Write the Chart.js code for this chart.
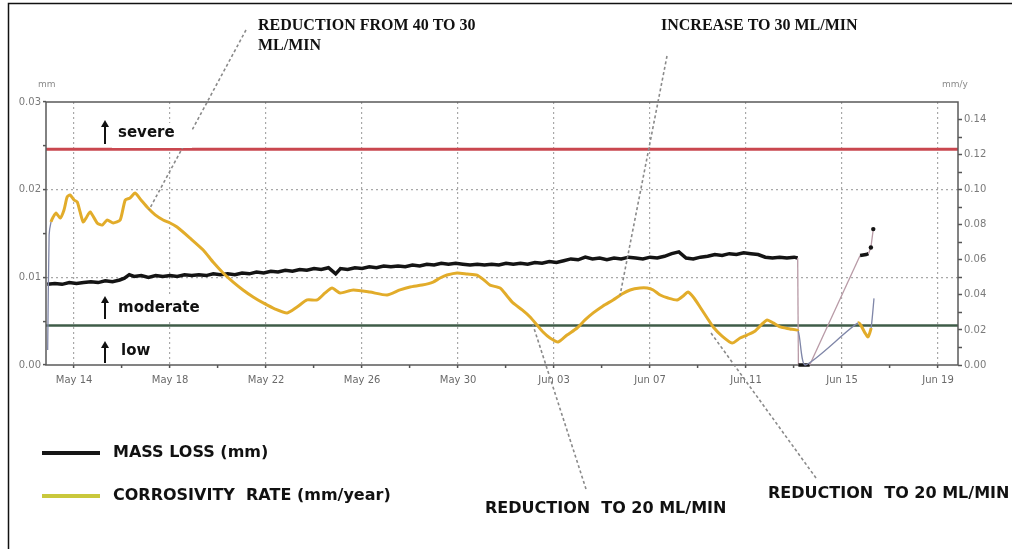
<!DOCTYPE html>
<html>
<head>
<meta charset="utf-8">
<script src="https://cdn.jsdelivr.net/npm/chart.js@4.4.0/dist/chart.umd.min.js"></script>
<style>
  html, body { margin: 0; padding: 0; background: #fff; }
  #wrap { position: relative; width: 1018px; height: 549px; }
</style>
</head>
<body>
<div id="wrap"><canvas id="c" width="1018" height="549"></canvas></div>
<script>
// Day numbers count from 1 May: 13 = May 14, 33 = Jun 03, 49 = Jun 19
const tickDays   = [13, 17, 21, 25, 29, 33, 37, 41, 45, 49];
const tickLabels = ['May 14', 'May 18', 'May 22', 'May 26', 'May 30',
                    'Jun 03', 'Jun 07', 'Jun 11', 'Jun 15', 'Jun 19'];

// Cumulative mass loss (mm), left axis
const massDays = [
  11.88, 12.2, 12.5, 12.8, 13.1, 13.4, 13.7, 14.0, 14.3, 14.6, 14.9, 15.1, 15.3, 15.5, 15.8,
  16.1, 16.4, 16.7, 17.0, 17.3, 17.6, 17.9, 18.2, 18.5, 18.8, 19.1, 19.4, 19.7, 20.0, 20.3,
  20.6, 20.9, 21.2, 21.5, 21.8, 22.1, 22.4, 22.7, 23.0, 23.3, 23.6, 23.9, 24.1, 24.4, 24.7,
  25.0, 25.3, 25.6, 25.9, 26.2, 26.5, 26.8, 27.1, 27.4, 27.7, 28.0, 28.3, 28.6, 28.9, 29.2,
  29.5, 29.8, 30.1, 30.4, 30.7, 31.0, 31.3, 31.6, 31.9, 32.2, 32.5, 32.8, 33.1, 33.4, 33.7,
  34.0, 34.3, 34.6, 34.9, 35.2, 35.5, 35.8, 36.1, 36.4, 36.7, 37.0, 37.3, 37.6, 37.9, 38.2,
  38.5, 38.8, 39.1, 39.4, 39.7, 40.0, 40.3, 40.6, 40.9, 41.2, 41.5, 41.8, 42.1, 42.4, 42.7,
  43.0, 43.15, 43.18, 43.65, 45.75, 46.0, 46.1, 46.2, 46.3
];
const massLoss = [
  0.0092, 0.0093, 0.0092, 0.0094, 0.0093, 0.0094, 0.0095, 0.0094, 0.0096, 0.0095, 0.0097, 0.0099, 0.0103, 0.0101, 0.0102,
  0.0100, 0.0102, 0.0101, 0.0102, 0.0101, 0.0103, 0.0102, 0.0103, 0.0102, 0.0104, 0.0103, 0.0104, 0.0103, 0.0105, 0.0104,
  0.0106, 0.0105, 0.0107, 0.0106, 0.0108, 0.0107, 0.0109, 0.0108, 0.0110, 0.0109, 0.0111, 0.0104, 0.0110, 0.0109, 0.0111,
  0.0110, 0.0112, 0.0111, 0.0113, 0.0112, 0.0113, 0.0112, 0.0114, 0.0113, 0.0115, 0.0114, 0.0116, 0.0115, 0.0116, 0.0115,
  0.0114, 0.0115, 0.0114, 0.0115, 0.0114, 0.0116, 0.0115, 0.0116, 0.0115, 0.0117, 0.0116, 0.0118, 0.0117, 0.0119, 0.0121,
  0.0120, 0.0123, 0.0121, 0.0122, 0.0120, 0.0122, 0.0121, 0.0123, 0.0122, 0.0121, 0.0123, 0.0122, 0.0124, 0.0127, 0.0129,
  0.0122, 0.0121, 0.0123, 0.0124, 0.0126, 0.0125, 0.0127, 0.0126, 0.0128, 0.0127, 0.0126, 0.0123, 0.0122, 0.0123, 0.0122,
  0.0123, 0.0122, 0.0000, 0.0000, 0.0125, 0.0126, 0.0127, 0.0134, 0.0155
];

// Corrosivity rate (mm/year), right axis
const rateDays = [
  11.90, 11.96, 12.04, 12.13, 12.25, 12.42, 12.58, 12.71, 12.83, 13.00, 13.13, 13.25, 13.38, 13.50, 13.67,
  13.96, 14.17, 14.38, 14.63, 14.92, 15.13, 15.33, 15.54, 15.79, 16.08, 16.38, 16.71, 17.00, 17.29, 17.83,
  18.38, 18.79, 19.21, 19.63, 20.04, 20.46, 20.88, 21.38, 21.88, 22.29, 22.71, 23.13, 23.46, 23.75, 24.08,
  24.63, 25.33, 26.04, 26.58, 27.00, 27.50, 27.96, 28.25, 28.54, 28.96, 29.38, 29.79, 30.08, 30.33, 30.75,
  31.04, 31.29, 31.67, 32.00, 32.29, 32.54, 32.83, 33.17, 33.54, 33.96, 34.29, 34.63, 35.04, 35.46, 35.83,
  36.17, 36.58, 36.88, 37.13, 37.42, 37.75, 38.13, 38.38, 38.58, 38.83, 39.08, 39.38, 39.63, 40.00, 40.42,
  40.75, 41.04, 41.38, 41.67, 41.88, 42.13, 42.42, 42.83, 43.17, 43.46, 45.67, 45.96, 46.08, 46.21, 46.33
];
const corrosionRate = [
  0.0086, 0.0741, 0.0816, 0.0844, 0.0867, 0.0838, 0.0884, 0.0958, 0.0970, 0.0941, 0.0930, 0.0873, 0.0816, 0.0838, 0.0873,
  0.0810, 0.0798, 0.0827, 0.0810, 0.0827, 0.0941, 0.0952, 0.0981, 0.0941, 0.0895, 0.0856, 0.0827, 0.0810, 0.0787, 0.0724,
  0.0656, 0.0587, 0.0525, 0.0473, 0.0428, 0.0388, 0.0354, 0.0319, 0.0297, 0.0331, 0.0371, 0.0371, 0.0411, 0.0439, 0.0411,
  0.0428, 0.0416, 0.0399, 0.0428, 0.0445, 0.0456, 0.0473, 0.0496, 0.0513, 0.0525, 0.0519, 0.0513, 0.0485, 0.0456, 0.0439,
  0.0394, 0.0354, 0.0314, 0.0274, 0.0228, 0.0188, 0.0154, 0.0131, 0.0171, 0.0211, 0.0257, 0.0297, 0.0337, 0.0371, 0.0405,
  0.0428, 0.0439, 0.0439, 0.0428, 0.0399, 0.0382, 0.0371, 0.0394, 0.0416, 0.0382, 0.0331, 0.0268, 0.0217, 0.0165, 0.0125,
  0.0154, 0.0171, 0.0194, 0.0234, 0.0257, 0.0240, 0.0217, 0.0205, 0.0194, 0.0000, 0.0240, 0.0182, 0.0160, 0.0211, 0.0380
];

// Corrosivity class limits on the rate axis (mm/year)
const severeLimit = 0.123;
const moderateLimit = 0.0225;

const SANS = '"DejaVu Sans", Verdana, sans-serif';
const SERIF = '"Liberation Serif", "Times New Roman", serif';

// Logger outages: steep jumps or long gaps are drawn as thin connectors
function isJump(ctx, slopeLimit) {
  const a = ctx.p0.parsed, b = ctx.p1.parsed;
  const dx = b.x - a.x;
  return dx > 1 || Math.abs(b.y - a.y) > slopeLimit * Math.max(dx, 1e-6);
}

const notes = [
  { lines: ['REDUCTION FROM 40 TO 30', 'ML/MIN'], font: 'bold 16px ' + SERIF, tx: 258, ty: 26,
    from: [246, 30], day: 16.12, rate: 0.0884 },
  { lines: ['INCREASE TO 30 ML/MIN'], font: 'bold 16px ' + SERIF, tx: 661, ty: 26,
    from: [667, 56], day: 35.75, rate: 0.0399 },
  { lines: ['REDUCTION  TO 20 ML/MIN'], font: 'bold 16px ' + SANS, tx: 485, ty: 509,
    from: [586, 489], day: 32.12, rate: 0.0228 },
  { lines: ['REDUCTION  TO 20 ML/MIN'], font: 'bold 16px ' + SANS, tx: 768, ty: 494,
    from: [816, 478], day: 39.5, rate: 0.019 }
];

const classLabels = [
  { text: 'severe',   x: 118, y: 133, box: [112, 123, 80, 25], arrow: [105, 120, 144] },
  { text: 'moderate', x: 118, y: 308, box: [112, 295, 96, 26], arrow: [105, 296, 319] },
  { text: 'low',      x: 121, y: 351, box: [112, 337, 54, 27], arrow: [105, 341, 363] }
];

const legendItems = [
  { text: 'MASS LOSS (mm)', color: '#161616', y: 453 },
  { text: 'CORROSIVITY  RATE (mm/year)', color: '#c9c83c', y: 496 }
];

function dashedLine(c, x1, y1, x2, y2) {
  c.save();
  c.strokeStyle = '#8a8a8a';
  c.lineWidth = 1.6;
  c.setLineDash([3, 2.5]);
  c.beginPath();
  c.moveTo(x1, y1);
  c.lineTo(x2, y2);
  c.stroke();
  c.restore();
}

const decor = {
  id: 'decor',
  beforeDatasetsDraw(chart) {
    const c = chart.ctx, a = chart.chartArea, yr = chart.scales.yRate;
    c.save();
    // class limit lines
    [[severeLimit, '#c9474f', 3], [moderateLimit, '#3f5c48', 2.5]].forEach(([v, col, w]) => {
      const y = yr.getPixelForValue(v);
      c.strokeStyle = col;
      c.lineWidth = w;
      c.beginPath();
      c.moveTo(a.left, y);
      c.lineTo(a.right, y);
      c.stroke();
    });
    // plot frame, under the series so the zero run of the mass line stays visible
    c.strokeStyle = '#5a5a5a';
    c.lineWidth = 1.5;
    c.strokeRect(a.left, a.top, a.right - a.left, a.bottom - a.top);
    c.restore();
  },
  afterDatasetsDraw(chart) {
    const c = chart.ctx;
    const xs = chart.scales.x, yr = chart.scales.yRate;
    c.save();

    // leader lines from each note to the rate curve
    notes.forEach(n => {
      dashedLine(c, n.from[0], n.from[1], xs.getPixelForValue(n.day), yr.getPixelForValue(n.rate));
    });

    // class labels with arrows
    classLabels.forEach(l => {
      c.fillStyle = '#fff';
      c.fillRect(l.box[0], l.box[1], l.box[2], l.box[3]);
      c.strokeStyle = '#111';
      c.fillStyle = '#111';
      c.lineWidth = 2;
      c.beginPath();
      c.moveTo(l.arrow[0], l.arrow[2]);
      c.lineTo(l.arrow[0], l.arrow[1] + 5);
      c.stroke();
      c.beginPath();
      c.moveTo(l.arrow[0] - 4, l.arrow[1] + 7);
      c.lineTo(l.arrow[0], l.arrow[1]);
      c.lineTo(l.arrow[0] + 4, l.arrow[1] + 7);
      c.closePath();
      c.fill();
      c.font = 'bold 15px ' + SANS;
      c.textBaseline = 'middle';
      c.textAlign = 'left';
      c.fillText(l.text, l.x, l.y);
    });

    // note texts
    c.fillStyle = '#111';
    c.textAlign = 'left';
    c.textBaseline = 'middle';
    notes.forEach(n => {
      c.font = n.font;
      n.lines.forEach((t, i) => c.fillText(t, n.tx, n.ty + i * 20));
    });

    // axis units
    c.fillStyle = '#8a8a8a';
    c.font = '9px ' + SANS;
    c.fillText('mm', 38, 85);
    c.fillText('mm/y', 942, 85);

    // legend
    legendItems.forEach(it => {
      c.strokeStyle = it.color;
      c.lineWidth = 4;
      c.beginPath();
      c.moveTo(42, it.y);
      c.lineTo(100, it.y);
      c.stroke();
      c.fillStyle = '#111';
      c.font = 'bold 16px ' + SANS;
      c.fillText(it.text, 113, it.y);
    });

    // outer border
    c.strokeStyle = '#111';
    c.lineWidth = 1.5;
    c.beginPath();
    c.moveTo(8.5, 549);
    c.lineTo(8.5, 3.5);
    c.lineTo(1012, 3.5);
    c.stroke();
    c.restore();
  }
};

const tickFont = { family: SANS, size: 10 };

new Chart(document.getElementById('c'), {
  type: 'line',
  data: {
    datasets: [
      {
        label: 'MASS LOSS (mm)',
        data: massDays.map((d, i) => ({ x: d, y: massLoss[i] })),
        yAxisID: 'yMass',
        borderColor: '#141414',
        borderWidth: 3.5,
        pointRadius: ctx => (ctx.dataIndex >= massDays.length - 2 ? 2.2 : 0),
        pointBackgroundColor: '#141414',
        pointBorderWidth: 0,
        tension: 0,
        order: 1,
        clip: false,
        segment: {
          borderColor: ctx => (isJump(ctx, 0.005) ? '#b89aa6' : undefined),
          borderWidth: ctx => (isJump(ctx, 0.005) ? 1.3 : undefined)
        }
      },
      {
        label: 'CORROSIVITY RATE (mm/year)',
        data: rateDays.map((d, i) => ({ x: d, y: corrosionRate[i] })),
        yAxisID: 'yRate',
        borderColor: '#e2ac2a',
        borderWidth: 3,
        pointRadius: 0,
        tension: 0.2,
        order: 0,
        clip: false,
        segment: {
          borderColor: ctx => (isJump(ctx, 0.06) ? '#7f86a8' : undefined),
          borderWidth: ctx => (isJump(ctx, 0.06) ? 1.3 : undefined)
        }
      }
    ]
  },
  options: {
    responsive: false,
    animation: false,
    events: [],
    layout: { padding: { left: 0, right: 0, top: 102, bottom: 154 } },
    plugins: { legend: { display: false }, tooltip: { enabled: false } },
    scales: {
      x: {
        type: 'linear',
        min: 11.83,
        max: 49.83,
        afterBuildTicks: s => {
          const t = [];
          for (let d = tickDays[0]; d <= tickDays[tickDays.length - 1]; d += 2) t.push({ value: d });
          s.ticks = t;
        },
        afterFit: s => { s.height = 30; },
        ticks: {
          autoSkip: false,
          maxRotation: 0,
          padding: 6,
          color: '#6a6a6a',
          font: tickFont,
          callback: v => {
            const i = tickDays.indexOf(v);
            return i >= 0 ? tickLabels[i] : '';
          }
        },
        grid: {
          color: ctx => (ctx.tick && tickDays.includes(ctx.tick.value) ? '#a8a8a8' : 'rgba(0,0,0,0)'),
          lineWidth: 1.2,
          tickLength: 3,
          tickColor: '#555',
          tickWidth: 1.5
        },
        border: { display: false, dash: [2, 3] }
      },
      yMass: {
        position: 'left',
        min: 0,
        max: 0.03,
        afterBuildTicks: s => {
          const t = [];
          for (let i = 0; i <= 6; i++) t.push({ value: i * 0.005 });
          s.ticks = t;
        },
        afterFit: s => { s.width = 46; },
        ticks: {
          padding: 2,
          color: '#7a7a7a',
          font: tickFont,
          callback: (v, i) => (i % 2 === 0 ? v.toFixed(2) : '')
        },
        grid: {
          color: ctx => (ctx.index === 2 || ctx.index === 4 ? '#a8a8a8' : 'rgba(0,0,0,0)'),
          lineWidth: 1.2,
          tickLength: 3,
          tickColor: '#555',
          tickWidth: 1.5
        },
        border: { display: false, dash: [2, 3] }
      },
      yRate: {
        position: 'right',
        min: 0,
        max: 0.15,
        afterBuildTicks: s => {
          const t = [];
          for (let i = 0; i <= 14; i++) t.push({ value: i * 0.01 });
          s.ticks = t;
        },
        afterFit: s => { s.width = 60; },
        ticks: {
          padding: 2,
          color: '#7a7a7a',
          font: tickFont,
          callback: (v, i) => (i % 2 === 0 ? v.toFixed(2) : '')
        },
        grid: {
          drawOnChartArea: false,
          tickLength: 4,
          tickColor: '#555',
          tickWidth: 1.5
        },
        border: { display: false }
      }
    }
  },
  plugins: [decor]
});
</script>
</body>
</html>
